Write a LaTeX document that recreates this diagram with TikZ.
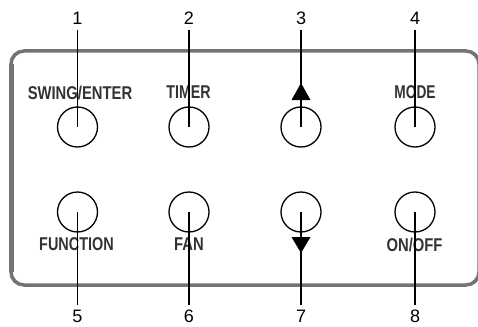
\documentclass[tikz,border=0pt]{standalone}
\usepackage{fontspec}
\usepackage{graphicx}
\setmainfont{Liberation Sans}
\begin{document}
\begin{tikzpicture}[x=1pt,y=-1pt,
  panel/.style={draw=black!55, line width=3.5pt, rounded corners=13pt},
  btn/.style={circle, draw=black, line width=1.3pt, minimum size=40pt, inner sep=0pt},
  num/.style={inner sep=5pt, font=\fontsize{18}{18}\selectfont},
  lbl/.style={inner sep=0pt, text=black!80, font=\fontsize{18.5}{18.5}\selectfont\bfseries},
  leader/.style={draw=black, line width=1.3pt},
  tri/.style={fill=black, draw=none}]
\useasboundingbox (0,0) rectangle (478,326);
% panel
\draw[panel] (11,51) rectangle (479,285);
\draw[draw=black!55, line width=5pt] (11.5,64) -- (11.5,272);
% buttons
\node[btn] (b1) at (77.5,127) {};
\node[btn] (b2) at (189,127) {};
\node[btn] (b3) at (301,127) {};
\node[btn] (b4) at (415,127) {};
\node[btn] (b5) at (77.5,212) {};
\node[btn] (b6) at (189,212) {};
\node[btn] (b7) at (301,212) {};
\node[btn] (b8) at (415,212) {};
% labels
\node[lbl] (l1) at (80,92.5) {\scalebox{0.8}[1]{SWING/ENTER}};
\node[lbl] (l2) at (188.5,92.5) {\scalebox{0.77}[1]{TIMER}};
\node[lbl] (l4) at (415,92) {\scalebox{0.74}[1]{MODE}};
\node[lbl] (l5) at (76.5,244.5) {\scalebox{0.78}[1]{FUNCTION}};
\node[lbl] (l6) at (189,244.5) {\scalebox{0.8}[1]{FAN}};
\node[lbl] (l8) at (414.5,244.5) {\scalebox{0.8}[1]{ON/OFF}};
% triangles
\fill[tri] (301,83) -- (310.5,100) -- (291.5,100) -- cycle;
\fill[tri] (291.5,237) -- (310.5,237) -- (301,253) -- cycle;
% numbers
\node[num, anchor=south] (n1) at (77.5,30) {1};
\node[num, anchor=south] (n2) at (189,30) {2};
\node[num, anchor=south] (n3) at (301,30) {3};
\node[num, anchor=south] (n4) at (415,30) {4};
\node[num, anchor=north] (n5) at (77.5,305) {5};
\node[num, anchor=north] (n6) at (189,305) {6};
\node[num, anchor=north] (n7) at (301,305) {7};
\node[num, anchor=north] (n8) at (415,305) {8};
% leaders
\foreach \i in {1,2,3,4}{\draw[leader] (n\i.south) -- (b\i.center);}
\foreach \i in {5,6,7,8}{\draw[leader] (b\i.center) -- (n\i.north);}
\end{tikzpicture}
\end{document}
